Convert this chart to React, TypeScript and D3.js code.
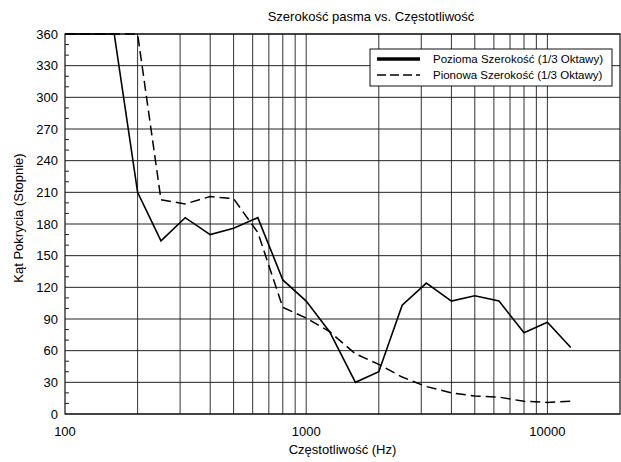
import React from 'react';
import * as d3 from 'd3';

// 1/3 octave centre frequencies (Hz)
const freqs = [100, 125, 160, 200, 250, 315, 400, 500, 630, 800, 1000, 1250, 1600, 2000, 2500, 3150, 4000, 5000, 6300, 8000, 10000, 12500];

// coverage angle, degrees
const horizontal = [360, 360, 360, 210, 164, 186, 170, 176, 186, 127, 107, 78, 30, 40, 103, 124, 107, 112, 107, 77, 87, 63];
const vertical = [360, 360, 360, 360, 203, 199, 206, 204, 172, 101, 91, 78, 57, 47, 35, 26, 20, 17, 16, 12, 11, 12];

const yTicks = [0, 30, 60, 90, 120, 150, 180, 210, 240, 270, 300, 330, 360];
const xTickLabels = [100, 1000, 10000];
const gridFreqs = [200, 300, 400, 500, 600, 700, 800, 900, 1000, 2000, 3000, 4000, 5000, 6000, 7000, 8000, 9000, 10000];

const legendItems = [
  { label: 'Pozioma Szerokość (1/3 Oktawy)', dash: '', width: 3.5 },
  { label: 'Pionowa Szerokość (1/3 Oktawy)', dash: '9,4', width: 1.5 },
];

const W = 621;
const H = 462;
const margin = { top: 34, right: 1, bottom: 48, left: 65 };
const font = '"Liberation Sans", Arial, Helvetica, sans-serif';

export default function App() {
  const x = d3.scaleLog().domain([100, 20000]).range([margin.left, W - margin.right]);
  const y = d3.scaleLinear().domain([0, 360]).range([H - margin.bottom, margin.top]);

  const line = d3
    .line<number>()
    .x((_, i) => x(freqs[i]))
    .y(d => y(d));

  const minorTicks = d3.range(0, 361, 10).filter(v => v % 30 !== 0);
  const x0 = x.range()[0];
  const x1 = x.range()[1];
  const y0 = y.range()[0];
  const y1 = y.range()[1];

  return (
    <svg width={W} height={H} style={{ position: 'absolute', left: 0, top: 0, background: '#fff' }} fontFamily={font}>
      <rect x={0} y={0} width={W} height={H} fill="#fff" />

      {/* vertical grid */}
      {gridFreqs.map(f => (
        <line key={'v' + f} x1={x(f)} x2={x(f)} y1={y1} y2={y0} stroke="#333" strokeWidth={1} />
      ))}

      {/* horizontal grid */}
      {yTicks.map(v => (
        <line key={'h' + v} x1={x0} x2={x1} y1={y(v)} y2={y(v)} stroke="#222" strokeWidth={1} />
      ))}

      {/* minor ticks */}
      {minorTicks.map(v => (
        <line key={'m' + v} x1={x0} x2={x0 + 4} y1={y(v)} y2={y(v)} stroke="#222" strokeWidth={1} />
      ))}

      {/* frame */}
      <rect x={x0} y={y1} width={x1 - x0} height={y0 - y1} fill="none" stroke="#111" strokeWidth={1.2} />

      {/* data */}
      <path d={line(horizontal) || ''} fill="none" stroke="#000" strokeWidth={1.6} />
      <path d={line(vertical) || ''} fill="none" stroke="#000" strokeWidth={1.5} strokeDasharray="10,5" />

      {/* y axis labels */}
      {yTicks.map(v => (
        <text key={'yl' + v} x={x0 - 7} y={y(v)} dy="0.35em" textAnchor="end" fontSize={13} fill="#000">
          {v}
        </text>
      ))}

      {/* x axis labels */}
      {xTickLabels.map(v => (
        <text key={'xl' + v} x={x(v)} y={y0 + 22} textAnchor="middle" fontSize={13} fill="#000">
          {v}
        </text>
      ))}

      <text x={371} y={21} textAnchor="middle" fontSize={13} fill="#000">
        Szerokość pasma vs. Częstotliwość
      </text>
      <text x={(x0 + x1) / 2} y={H - 8} textAnchor="middle" fontSize={13} fill="#000">
        Częstotliwość (Hz)
      </text>
      <text transform="translate(23,218) rotate(-90)" textAnchor="middle" fontSize={13} fill="#000">
        Kąt Pokrycia (Stopnie)
      </text>

      {/* legend */}
      <g transform="translate(370,49)">
        <rect x={0} y={0} width={242} height={37} fill="#fff" stroke="#111" strokeWidth={1} />
        {legendItems.map((d, i) => (
          <g key={d.label} transform={`translate(0,${10 + i * 16})`}>
            <line x1={7} x2={50} y1={0} y2={0} stroke="#000" strokeWidth={d.width} strokeDasharray={d.dash} />
            <text x={63} y={0} dy="0.35em" fontSize={11.5} fill="#000">
              {d.label}
            </text>
          </g>
        ))}
      </g>
    </svg>
  );
}
